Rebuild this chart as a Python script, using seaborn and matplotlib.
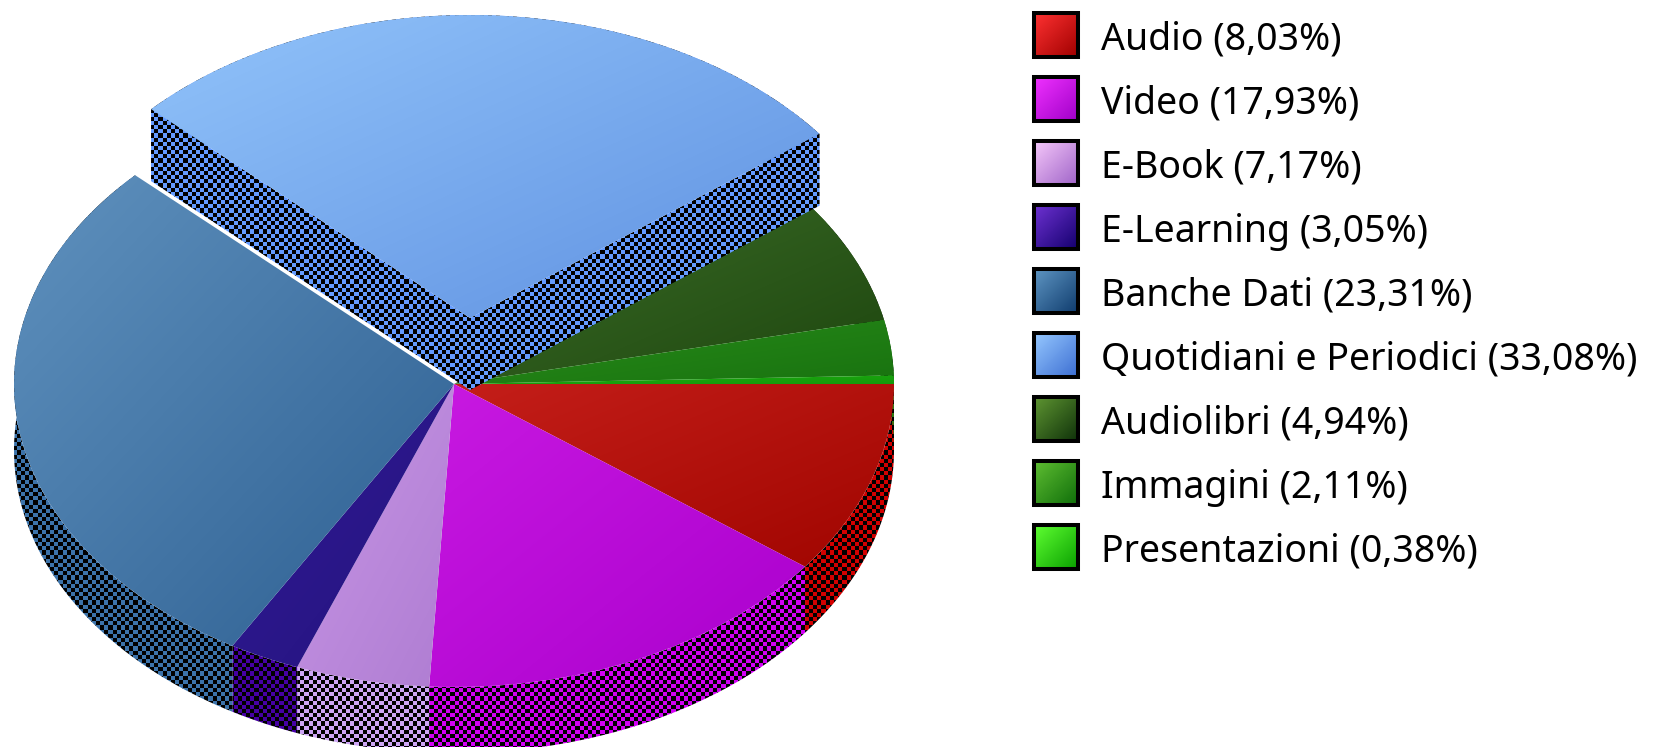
#!/usr/bin/env python3

import numpy as np
import matplotlib.pyplot as plt
import seaborn as sns
from matplotlib.colors import ListedColormap
from matplotlib.patches import Polygon, Rectangle

# Legend text, as printed on the chart
categories = ["Audio", "Video", "E-Book", "E-Learning", "Banche Dati",
              "Quotidiani e Periodici", "Audiolibri", "Immagini", "Presentazioni"]
percent_labels = ["8,03", "17,93", "7,17", "3,05", "23,31", "33,08", "4,94", "2,11", "0,38"]

# Slice sizes as actually drawn in the picture (they differ a bit from the labels)
drawn_shares = [10.3, 15.6, 4.9, 2.6, 28.7, 27.5, 7.0, 2.95, 0.45]

# top-left and bottom-right colours of each slice face
face_light = ["#c41e19", "#c819e1", "#c896e6", "#321996", "#5f91be",
              "#91c3fa", "#3c6e28", "#288c19", "#1eaa0f"]
face_dark = ["#a00500", "#aa00cd", "#af7dd2", "#23147", "#2d5f91",
             "#5f91e1", "#1e460f", "#197310", "#149a0c"]
face_dark[3] = "#23147d"
side_colors = ["#d20000", "#d200f5", "#cda5f5", "#4600a5", "#3c73aa",
               "#649bff", "#2d5a1e", "#208015", "#1eaa0f"]
swatch_light = ["#ff3232", "#f032ff", "#f5c8fa", "#6e32d2", "#5f96c3",
                "#96c8ff", "#5f9632", "#5fbe32", "#5fff32"]
swatch_dark = ["#a00000", "#a000c8", "#a064c8", "#14006e", "#0f3c6e",
               "#3c6ed2", "#0f320a", "#0f6e0a", "#0aa000"]

WIDTH, HEIGHT = 1671, 747
CENTER_X, CENTER_Y = 454, 384
RADIUS_X, RADIUS_Y = 440, 303
DEPTH = 66 / RADIUS_Y
PULLED_DEPTH = 72 / RADIUS_Y
PULLED = 5
PULLED_CENTER = (16 / RADIUS_X, 66 / RADIUS_Y)
CHECKER_PX = 4.17

sns.set_theme(style="white")
plt.rcParams['font.family'] = ['Noto Sans', 'DejaVu Sans']


def add_gradient(ax, light, dark, extent, clip, zorder):
    """Diagonal gradient, light at top left, clipped to a patch"""
    cmap = sns.blend_palette([light, dark], as_cmap=True)
    steps = np.linspace(0, 1, 64)
    grad = (steps[None, :] + steps[:, None]) / 2
    img = ax.imshow(grad, cmap=cmap, vmin=0, vmax=1, extent=extent, origin="upper",
                    aspect="auto", interpolation="bilinear", zorder=zorder)
    if clip is not None:
        img.set_clip_path(clip)


def add_checker(ax, color, points, zorder):
    """Dithered side wall: checkerboard of black and the slice colour"""
    rows, cols = int(HEIGHT / CHECKER_PX) + 1, int(WIDTH / CHECKER_PX) + 1
    board = np.indices((rows, cols)).sum(axis=0) % 2
    x0, x1 = ax.get_xlim()
    y0, y1 = ax.get_ylim()
    span_x = cols * CHECKER_PX / RADIUS_X
    span_y = rows * CHECKER_PX / RADIUS_Y
    img = ax.imshow(board, cmap=ListedColormap(["black", color]), vmin=0, vmax=1,
                    extent=(x0, x0 + span_x, y1 - span_y, y1), origin="upper",
                    aspect="auto", interpolation="nearest", zorder=zorder)
    img.set_clip_path(Polygon(points, transform=ax.transData))


def arc_points(wedge):
    angles = np.radians(np.linspace(wedge.theta1, wedge.theta2, 80))
    cx, cy = wedge.center
    return np.column_stack([cx + wedge.r * np.cos(angles), cy + wedge.r * np.sin(angles)])


def extrude(points, depth):
    return np.vstack([points, (points - [0, depth])[::-1]])


def draw_pie(ax):
    wedges, _ = ax.pie(drawn_shares, startangle=0, counterclock=False, radius=1,
                       wedgeprops={"linewidth": 0})
    ax.set_aspect("auto")
    xlim = (-CENTER_X / RADIUS_X, (WIDTH - CENTER_X) / RADIUS_X)
    ylim = ((CENTER_Y - HEIGHT) / RADIUS_Y, CENTER_Y / RADIUS_Y)
    ax.set_xlim(xlim)
    ax.set_ylim(ylim)
    wedges[PULLED].set_center(PULLED_CENTER)

    for i, wedge in enumerate(wedges):
        wedge.set_visible(False)
        arc = arc_points(wedge)
        pulled = i == PULLED
        depth = PULLED_DEPTH if pulled else DEPTH
        base = 3 if pulled else 1
        add_checker(ax, side_colors[i], extrude(arc, depth), base)
        if pulled:
            apex = np.array([wedge.center])
            add_checker(ax, side_colors[i], extrude(np.vstack([apex, arc[:1]]), depth), base)
            add_checker(ax, side_colors[i], extrude(np.vstack([apex, arc[-1:]]), depth), base)
        box = wedge.get_path().get_extents()
        add_gradient(ax, face_light[i], face_dark[i], (box.x0, box.x1, box.y0, box.y1),
                     wedge, base + 1)
    ax.set_xlim(xlim)
    ax.set_ylim(ylim)


def draw_legend(ax):
    ax.set_xlim(0, WIDTH)
    ax.set_ylim(HEIGHT, 0)
    ax.axis("off")
    for i, (name, pct) in enumerate(zip(categories, percent_labels)):
        top = 11 + 64 * i
        add_gradient(ax, swatch_light[i], swatch_dark[i], (1034, 1078, top + 46, top + 2), None, 1)
        ax.add_patch(Rectangle((1034, top + 2), 44, 44, fill=False, edgecolor="black",
                               linewidth=2.9, zorder=2))
        ax.text(1101, top + 39, f"{name} ({pct}%)", fontsize=27, color="black",
                va="baseline", ha="left")
    ax.set_xlim(0, WIDTH)
    ax.set_ylim(HEIGHT, 0)


def main():
    fig = plt.figure(figsize=(WIDTH / 100, HEIGHT / 100), dpi=100)
    pie_ax = fig.add_axes([0, 0, 1, 1])
    draw_pie(pie_ax)
    legend_ax = fig.add_axes([0, 0, 1, 1], facecolor="none")
    draw_legend(legend_ax)
    fig.savefig("out.png", dpi=100, facecolor="white")
    plt.close(fig)


if __name__ == "__main__":
    main()
